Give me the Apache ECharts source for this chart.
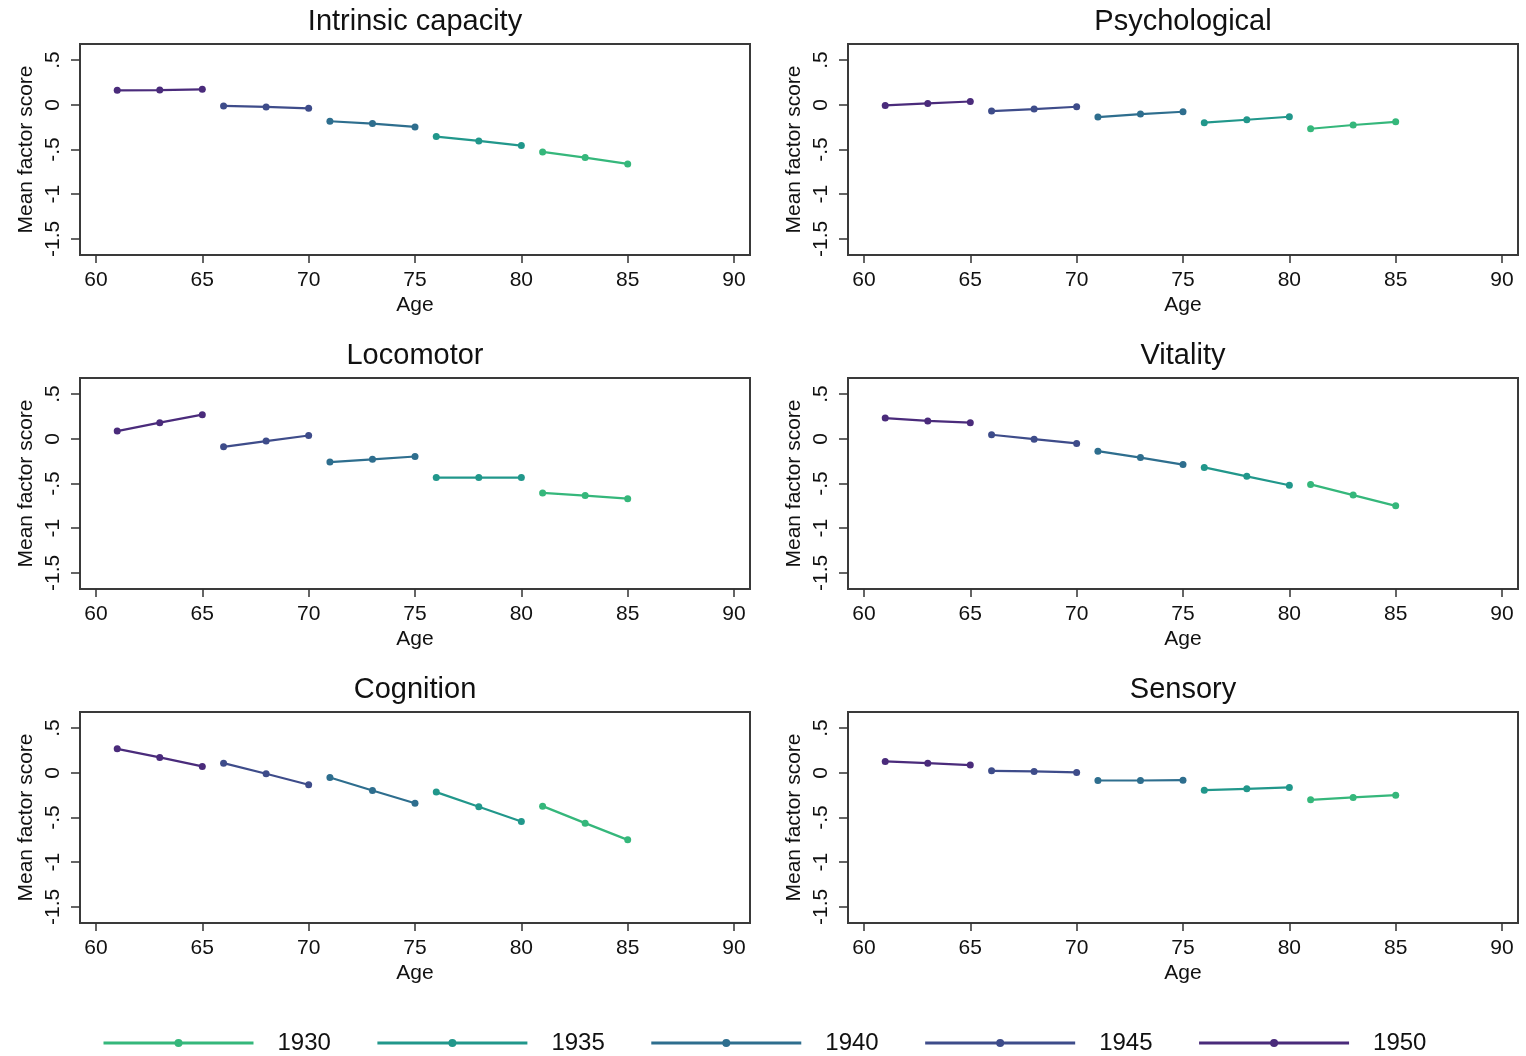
<!DOCTYPE html>
<html>
<head>
<meta charset="utf-8">
<script src="https://cdn.jsdelivr.net/npm/echarts@6/dist/echarts.min.js"></script>
<style>
  html, body { margin: 0; padding: 0; background: #fff; }
  #chart { width: 1526px; height: 1056px; }
</style>
</head>
<body>
<div id="chart"></div>
<script>
// 出生队列（图例顺序）
const cohorts = ['1930', '1935', '1940', '1945', '1950'];
const cohortColors = ['#35b77b', '#21978b', '#2e6e8e', '#3e4c8a', '#4a2b7b'];

// 每个队列观察到的年龄
const ages1930 = [81, 83, 85];
const ages1935 = [76, 78, 80];
const ages1940 = [71, 73, 75];
const ages1945 = [66, 68, 70];
const ages1950 = [61, 63, 65];
const cohortAges = [ages1930, ages1935, ages1940, ages1945, ages1950];

// 各面板的平均因子得分（按队列 1930..1950）
const intrinsic = [
  [-0.527, -0.590, -0.661],
  [-0.355, -0.404, -0.456],
  [-0.184, -0.210, -0.248],
  [-0.013, -0.024, -0.039],
  [0.162, 0.165, 0.173]
];
const psychological = [
  [-0.268, -0.226, -0.190],
  [-0.200, -0.167, -0.134],
  [-0.137, -0.104, -0.078],
  [-0.070, -0.048, -0.022],
  [-0.007, 0.015, 0.037]
];
const locomotor = [
  [-0.605, -0.635, -0.670],
  [-0.434, -0.434, -0.434],
  [-0.260, -0.230, -0.198],
  [-0.090, -0.026, 0.037],
  [0.086, 0.180, 0.270]
];
const vitality = [
  [-0.510, -0.630, -0.750],
  [-0.320, -0.420, -0.520],
  [-0.138, -0.210, -0.288],
  [0.045, -0.004, -0.052],
  [0.232, 0.200, 0.180]
];
const cognition = [
  [-0.373, -0.563, -0.750],
  [-0.216, -0.380, -0.545],
  [-0.052, -0.198, -0.340],
  [0.108, -0.011, -0.134],
  [0.268, 0.172, 0.071]
];
const sensory = [
  [-0.302, -0.276, -0.250],
  [-0.194, -0.179, -0.164],
  [-0.086, -0.086, -0.082],
  [0.022, 0.015, 0.004],
  [0.127, 0.108, 0.086]
];

const panelTitles = ['Intrinsic capacity', 'Psychological', 'Locomotor', 'Vitality', 'Cognition', 'Sensory'];
const panelValues = [intrinsic, psychological, locomotor, vitality, cognition, sensory];

// 刻度
const xTicks = [60, 65, 70, 75, 80, 85, 90];
const yTicks = [-1.5, -1, -0.5, 0, 0.5];

const font = '"Liberation Sans", Arial, sans-serif';
const chart = echarts.init(document.getElementById('chart'));

const grids = [], xAxes = [], yAxes = [], titles = [], series = [];
panelTitles.forEach((t, p) => {
  const col = p % 2, row = Math.floor(p / 2);
  const left = col === 0 ? 80 : 848;
  const top = 44 + row * 334;
  grids.push({
    left: left, top: top, width: 670, height: 211,
    show: true, borderColor: '#3a3a3a', borderWidth: 2, backgroundColor: '#fff'
  });
  titles.push({
    text: t, left: left + 335, top: top - 37, textAlign: 'center', padding: 0,
    textStyle: { fontFamily: font, fontSize: 29, fontWeight: 'normal', color: '#111' }
  });
  xAxes.push({
    type: 'value', gridIndex: p, min: 59.25, max: 90.75,
    name: 'Age', nameLocation: 'middle', nameGap: 40,
    nameTextStyle: { fontFamily: font, fontSize: 21, color: '#111' },
    axisLine: { show: false, onZero: false },
    axisTick: { show: true, length: 8, customValues: xTicks, lineStyle: { color: '#333', width: 1.5 } },
    axisLabel: { customValues: xTicks, margin: 15, fontFamily: font, fontSize: 21, color: '#111' },
    splitLine: { show: false }
  });
  yAxes.push({
    type: 'value', gridIndex: p, min: -1.68, max: 0.68,
    name: 'Mean factor score', nameLocation: 'middle', nameGap: 43,
    nameTextStyle: { fontFamily: font, fontSize: 21, color: '#111' },
    axisLine: { show: false, onZero: false },
    axisTick: { show: true, length: 9, customValues: yTicks, lineStyle: { color: '#333', width: 1.5 } },
    axisLabel: {
      customValues: yTicks, rotate: 90, margin: 16, fontFamily: font, fontSize: 21, color: '#111',
      formatter: v => String(v).replace(/^(-?)0\./, '$1.')
    },
    splitLine: { show: false }
  });
  cohorts.forEach((c, k) => {
    series.push({
      name: c, type: 'line', xAxisIndex: p, yAxisIndex: p,
      data: cohortAges[k].map((a, i) => [a, panelValues[p][k][i]]),
      color: cohortColors[k],
      symbol: 'circle', symbolSize: 7,
      lineStyle: { width: 2.2 }
    });
  });
});

chart.setOption({
  animation: false,
  backgroundColor: '#fff',
  title: titles,
  grid: grids,
  xAxis: xAxes,
  yAxis: yAxes,
  legend: {
    data: cohorts, left: 97, top: 1026,
    itemWidth: 150, itemHeight: 10, itemGap: 45,
    lineStyle: { width: 3 },
    textStyle: { fontFamily: font, fontSize: 24, color: '#111', padding: [0, 0, 0, 19] }
  },
  series: series
});
</script>
</body>
</html>
